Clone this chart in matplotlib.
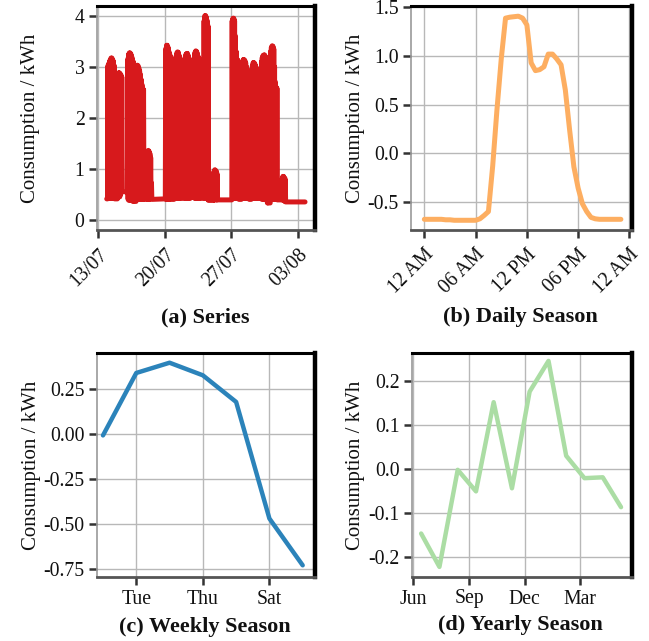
import numpy as np
import matplotlib
matplotlib.use("Agg")
import matplotlib.pyplot as plt
import matplotlib.dates as mdates
from datetime import datetime

plt.rcParams['font.family'] = ['Liberation Serif', 'DejaVu Serif']
plt.rcParams['axes.unicode_minus'] = False

# ---------------- data ----------------
# (a) hourly series: (start hour after 13/07 00:00, consecutive hourly values)
SERIES_START = datetime(2013, 7, 13)
SEGMENTS_A = [
    (21, [0.41, 0.41]),
    (23, [0.41, 3.02, 0.45, 3.06, 0.42, 3.10, 0.45, 3.14, 0.42, 3.17, 0.45, 3.17, 0.42, 3.14, 0.45, 3.10, 0.42, 3.02, 0.41]),
    (48, [0.41, 2.80, 0.45, 2.88, 0.50, 2.88, 0.45, 2.86, 0.50, 2.84, 0.55, 2.80, 0.55]),
    (73, [0.55, 3.15, 0.40, 3.24, 0.38, 3.27, 0.40, 3.27, 0.38, 3.25, 0.40, 3.20, 0.38, 3.15, 0.36, 3.10, 0.38, 3.00, 0.36]),
    (95, [0.36, 2.95, 0.40, 3.03, 0.42, 3.02, 0.40, 2.98, 0.42, 2.92, 0.40, 2.85, 0.42, 2.75, 0.40, 2.65, 0.40, 2.58, 0.40, 2.55, 0.40]),
    (123, [0.40, 1.30, 0.40, 1.36, 0.42, 1.34, 0.40, 1.30, 0.42, 1.22, 0.42, 0.72, 0.40]),
    (169, [0.41, 3.35, 0.40, 3.42, 0.42, 3.42, 0.40, 3.38, 0.42, 3.30, 0.40, 3.25, 0.42, 3.20, 0.40]),
    (191, [0.40, 3.10, 0.42, 3.13, 0.45, 3.20, 0.42, 3.27, 0.45, 3.29, 0.42, 3.28, 0.45, 3.22, 0.42, 3.15, 0.45, 3.05, 0.42]),
    (216, [0.42, 3.10, 0.45, 3.18, 0.42, 3.24, 0.45, 3.26, 0.42, 3.26, 0.45, 3.22, 0.42, 3.15, 0.45, 3.08, 0.42, 3.00, 0.45]),
    (241, [0.45, 3.18, 0.42, 3.28, 0.45, 3.31, 0.42, 3.30, 0.45, 3.26, 0.42, 3.20, 0.45, 3.16, 0.42, 3.15, 0.45, 3.10, 0.42]),
    (266, [0.42, 3.90, 0.45, 4.00, 0.42, 4.00, 0.45, 3.96, 0.42, 3.90, 0.40, 3.80, 0.38]),
    (291, [0.38, 0.95, 0.39, 0.98, 0.40, 0.97, 0.39, 0.95, 0.39, 0.90, 0.39]),
    (337, [0.39, 3.90, 0.42, 3.95, 0.45, 3.95, 0.42, 3.90, 0.45, 3.60, 0.42, 3.30, 0.45, 3.15, 0.42, 3.13, 0.45, 3.10, 0.40]),
    (361, [0.40, 3.05, 0.42, 3.10, 0.45, 3.14, 0.42, 3.14, 0.45, 3.12, 0.42, 3.08, 0.45, 3.00, 0.42, 2.80, 0.45, 2.58, 0.42, 2.55, 0.40]),
    (386, [0.40, 2.95, 0.42, 3.02, 0.45, 3.08, 0.42, 3.08, 0.45, 3.06, 0.42, 3.02, 0.45, 2.98, 0.42, 2.93, 0.45, 2.91, 0.42]),
    (411, [0.42, 3.10, 0.40, 3.18, 0.42, 3.22, 0.40, 3.23, 0.42, 3.23, 0.40, 3.20, 0.42, 3.15, 0.40, 3.10, 0.33, 3.00, 0.33]),
    (434, [0.33, 3.30, 0.40, 3.38, 0.42, 3.41, 0.40, 3.40, 0.42, 3.35, 0.40, 3.00, 0.42, 2.70, 0.40, 2.60, 0.42, 2.58, 0.39]),
    (463, [0.39, 0.80, 0.40, 0.85, 0.38, 0.85, 0.40, 0.82, 0.36, 0.80, 0.35]),
    (522, [0.35]),
]
TICKS_A = [datetime(2013, 7, 13), datetime(2013, 7, 20), datetime(2013, 7, 27), datetime(2013, 8, 3)]

# (b) daily season, half-hourly
HOURS_B = [0, 0.5, 1, 1.5, 2, 2.5, 3, 3.5, 4, 4.5, 5, 5.5, 6, 6.5, 7, 7.5, 8, 8.5, 9, 9.5,
           10, 10.5, 11, 11.5, 12, 12.5, 13, 13.5, 14, 14.5, 15, 15.5, 16, 16.5, 17, 17.5,
           18, 18.5, 19, 19.5, 20, 20.5, 21, 21.5, 22, 22.5, 23]
DAILY_B = [-0.68, -0.68, -0.68, -0.68, -0.68, -0.685, -0.685, -0.69, -0.69, -0.69, -0.69, -0.69,
           -0.69, -0.675, -0.64, -0.60, -0.13, 0.45, 0.97, 1.39, 1.40, 1.405, 1.41, 1.39, 1.32,
           0.93, 0.85, 0.86, 0.89, 1.02, 1.02, 0.97, 0.91, 0.65, 0.24, -0.14, -0.36, -0.52,
           -0.60, -0.66, -0.675, -0.68, -0.68, -0.68, -0.68, -0.68, -0.68]
TICKS_B = [0, 6, 12, 18, 24]
LABELS_B = ['12 AM', '06 AM', '12 PM', '06 PM', '12 AM']

# (c) weekly season
DAYS_C = [0, 1, 2, 3, 4, 5, 6]          # Mon..Sun
WEEKLY_C = [-0.01, 0.337, 0.394, 0.324, 0.176, -0.472, -0.732]
TICKS_C = [1, 3, 5]
LABELS_C = ['Tue', 'Thu', 'Sat']

# (d) yearly season
DATES_D = [datetime(2013, 6, 14), datetime(2013, 7, 14), datetime(2013, 8, 13), datetime(2013, 9, 12),
           datetime(2013, 10, 11), datetime(2013, 11, 10), datetime(2013, 12, 9), datetime(2014, 1, 9),
           datetime(2014, 2, 7), datetime(2014, 3, 9), datetime(2014, 4, 8), datetime(2014, 5, 8)]
YEARLY_D = [-0.147, -0.223, -0.002, -0.051, 0.152, -0.044, 0.176, 0.246, 0.030, -0.021, -0.019, -0.087]
TICKS_D = [datetime(2013, 6, 1), datetime(2013, 9, 1), datetime(2013, 12, 1), datetime(2014, 3, 1)]

COLORS = ['#d7191c', '#fdae61', '#2b83ba', '#abdda4']

# ---------------- figure ----------------
fig = plt.figure(figsize=(6.49, 6.41), dpi=100)
W, H = 649.0, 641.0

def make_ax(left, top, right, bottom):
    return fig.add_axes([left / W, 1 - bottom / H, (right - left) / W, (bottom - top) / H])

def style(ax):
    ax.spines['top'].set_color('black')
    ax.spines['top'].set_linewidth(2.2)
    ax.spines['right'].set_color('black')
    ax.spines['right'].set_linewidth(3.2)
    ax.spines['left'].set_color('#999999')
    ax.spines['left'].set_linewidth(1.2)
    ax.spines['bottom'].set_color('#555555')
    ax.spines['bottom'].set_linewidth(2.0)
    ax.grid(True, color='#b8b8b8', linewidth=1.0)
    ax.set_axisbelow(True)
    ax.tick_params(length=6, width=1.8, color='#333333', labelsize=14.2, pad=3, labelcolor='#111111')
    ax.set_ylabel('Consumption / kWh', fontsize=15, color='#111111')

ax_a = make_ax(97, 6, 315, 230)
ax_b = make_ax(411, 6, 632, 230)
ax_c = make_ax(97, 353, 315, 577)
ax_d = make_ax(412, 353, 632, 577)
for ax in (ax_a, ax_b, ax_c, ax_d):
    style(ax)

# (a)
x0 = mdates.date2num(SERIES_START)
xa, ya = [], []
for start, vals in SEGMENTS_A:
    for i, v in enumerate(vals):
        xa.append(x0 + (start + i) / 24.0)
        ya.append(v)
ax_a.plot(xa, ya, color=COLORS[0], lw=3.6, solid_joinstyle='round', solid_capstyle='round')
ax_a.set_xlim(x0 - 0.15, x0 + 22.8)
ax_a.set_ylim(-0.2, 4.19)
ax_a.set_yticks([0, 1, 2, 3, 4])
ax_a.set_xticks(mdates.date2num(TICKS_A))
ax_a.xaxis.set_major_formatter(mdates.DateFormatter('%d/%m'))
ax_a.tick_params(axis='x', pad=5)
for lab in ax_a.get_xticklabels():
    lab.set_rotation(45)
    lab.set_ha('right')
    lab.set_va('top')
    lab.set_rotation_mode('anchor')
ax_a.yaxis.set_label_coords(-0.261, 0.5)

# (b)
ax_b.plot(HOURS_B, DAILY_B, color=COLORS[1], lw=3.6, solid_joinstyle='round', solid_capstyle='round')
ax_b.set_xlim(-1.56, 24.3)
ax_b.set_ylim(-0.79, 1.515)
ax_b.set_yticks([-0.5, 0.0, 0.5, 1.0, 1.5])
ax_b.set_yticklabels(['-0.5', '0.0', '0.5', '1.0', '1.5'])
ax_b.set_xticks(TICKS_B)
ax_b.set_xticklabels(LABELS_B, rotation=45, ha='right', va='top', rotation_mode='anchor')
ax_b.tick_params(axis='x', pad=5)
ax_b.yaxis.set_label_coords(-0.208, 0.5)

# (c)
ax_c.plot(DAYS_C, WEEKLY_C, color=COLORS[2], lw=3.2, solid_joinstyle='round', solid_capstyle='round')
ax_c.set_xlim(-0.18, 6.37)
ax_c.set_ylim(-0.797, 0.448)
ax_c.set_yticks([-0.75, -0.5, -0.25, 0.0, 0.25])
ax_c.set_yticklabels(['-0.75', '-0.50', '-0.25', '0.00', '0.25'])
ax_c.set_xticks(TICKS_C)
ax_c.set_xticklabels(LABELS_C)
ax_c.yaxis.set_label_coords(-0.257, 0.5)

# (d)
ax_d.plot(mdates.date2num(DATES_D), YEARLY_D, color=COLORS[3], lw=3.2, solid_joinstyle='round', solid_capstyle='round')
ax_d.set_xlim(mdates.date2num(datetime(2013, 5, 30)), mdates.date2num(datetime(2014, 5, 26)))
ax_d.set_ylim(-0.246, 0.264)
ax_d.set_yticks([-0.2, -0.1, 0.0, 0.1, 0.2])
ax_d.set_yticklabels(['-0.2', '-0.1', '0.0', '0.1', '0.2'])
ax_d.set_xticks(mdates.date2num(TICKS_D))
ax_d.xaxis.set_major_formatter(mdates.DateFormatter('%b'))
ax_d.yaxis.set_label_coords(-0.213, 0.5)

# captions
cap = dict(fontsize=16, fontweight='bold', ha='center', va='center', color='#111111')
fig.text(205 / W, 1 - 317 / H, '(a) Series', **cap)
fig.text(520 / W, 1 - 317 / H, '(b) Daily Season', **cap)
fig.text(205 / W, 1 - 627 / H, '(c) Weekly Season', **cap)
fig.text(520 / W, 1 - 625 / H, '(d) Yearly Season', **cap)

fig.savefig('out.png', dpi=100)
